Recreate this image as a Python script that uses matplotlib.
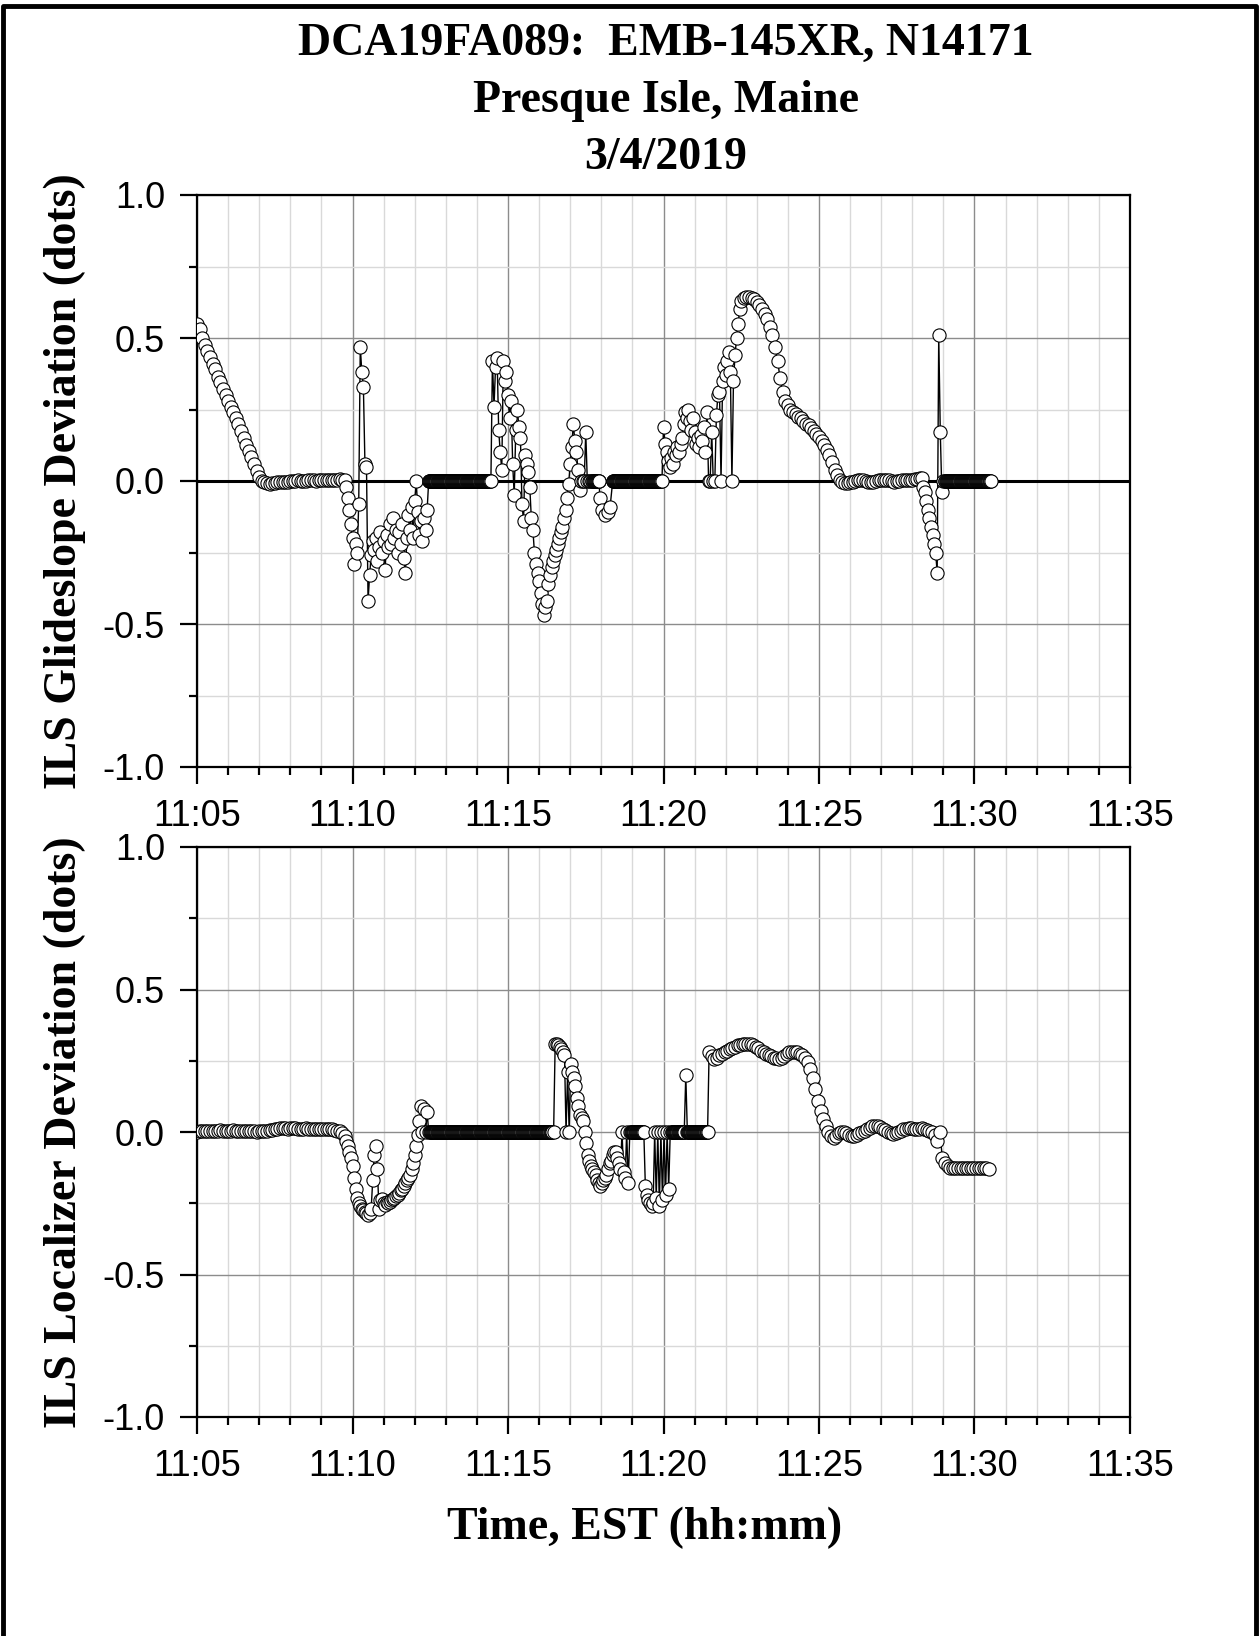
import numpy as np
import matplotlib
matplotlib.use('Agg')
import matplotlib.pyplot as plt
from matplotlib.ticker import MultipleLocator, FuncFormatter
from matplotlib.lines import Line2D

plt.rcParams['axes.unicode_minus'] = False

# ---- ILS glideslope deviation (dots); time in seconds after 11:05:00, in chunks
# (the recorder writes 0.0 while the signal is flagged invalid -> long zero runs at 1 s)
gs_starts = [0, 288, 447, 570, 762, 777, 802, 900, 1050, 1398, 1443]
gs_steps = [5, 3, 1, 3, 1, 5, 1, 3, 5, 3, 1]
gs_v1 = [0.55, 0.53, 0.50, 0.475, 0.455, 0.435, 0.41, 0.39, 0.365, 0.345,
         0.32, 0.30, 0.28, 0.26, 0.24, 0.22, 0.20, 0.175, 0.15, 0.125,
         0.105, 0.085, 0.06, 0.035, 0.015, 0.0,
         -0.005, -0.008, -0.009, -0.008, -0.006, -0.005, -0.004, -0.003, -0.002, -0.002,
         -0.001, 0.0, 0.001, 0.002, 0.001, 0.0, 0.001, 0.002, 0.003, 0.002,
         0.001, 0.002, 0.003, 0.004, 0.003, 0.002, 0.003, 0.004, 0.005, 0.006,
         0.005, 0.003]
gs_v2 = [-0.02, -0.06, -0.10, -0.15, -0.20, -0.29, -0.22, -0.25, -0.08, 0.47,
         0.38, 0.33, 0.06, 0.05, -0.42, -0.33, -0.26, -0.21, -0.24, -0.20,
         -0.28, -0.23, -0.18, -0.25, -0.21, -0.31, -0.19, -0.23, -0.15, -0.22,
         -0.13, -0.20, -0.17, -0.25, -0.18, -0.22, -0.15, -0.27, -0.32, -0.20,
         -0.12, -0.17, -0.09, -0.20, -0.07, 0.0, -0.11, -0.19, -0.14, -0.21,
         -0.13, -0.17, -0.10]
gs_v3 = [0.0] * 121
gs_v4 = [0.42, 0.26, 0.40, 0.43, 0.18, 0.10, 0.04, 0.42, 0.35, 0.38,
         0.30, 0.22, 0.28, 0.06, -0.05, 0.18, 0.25, 0.19, 0.15, -0.08,
         -0.14, 0.09, 0.06, 0.03, -0.02, -0.13, -0.17, -0.25, -0.29, -0.32,
         -0.35, -0.39, -0.43, -0.47, -0.44, -0.42, -0.36, -0.33, -0.30, -0.28,
         -0.26, -0.24, -0.22, -0.20, -0.18, -0.16, -0.13, -0.10, -0.06, -0.01,
         0.06, 0.12, 0.20, 0.14, 0.10, 0.04, -0.03, 0.0, 0.0, 0.0,
         0.17, 0.0, 0.0, 0.0]
gs_v5a = [0.0] * 15
gs_v5b = [-0.06, -0.10, -0.12, -0.11, -0.09]
gs_v5c = [0.0] * 96
gs_v6 = [0.19, 0.13, 0.10, 0.07, 0.05, 0.08, 0.06, 0.10, 0.09, 0.12,
         0.10, 0.13, 0.15, 0.20, 0.24, 0.22, 0.25, 0.21, 0.18, 0.22,
         0.17, 0.13, 0.15, 0.12, 0.16, 0.14, 0.19, 0.10, 0.24, 0.0,
         0.0, 0.17, 0.0, 0.0, 0.23, 0.30, 0.31, 0.0, 0.35, 0.40,
         0.37, 0.42, 0.45, 0.38, 0.0, 0.35, 0.44, 0.50, 0.55, 0.60]
gs_v7 = [0.63, 0.64, 0.645, 0.645, 0.64, 0.635, 0.625, 0.615, 0.60, 0.585,
         0.565, 0.54, 0.51, 0.47, 0.42, 0.36, 0.31, 0.28, 0.265, 0.25,
         0.24, 0.235, 0.225, 0.22, 0.21, 0.20, 0.195, 0.185, 0.175, 0.165,
         0.155, 0.14, 0.125, 0.11, 0.09, 0.065, 0.04, 0.02, 0.005, -0.005,
         -0.008,
         -0.006, -0.004, -0.002, 0.0, 0.002, 0.003, 0.002, 0.0, -0.002, -0.003,
         -0.002, 0.0, 0.002, 0.004, 0.005, 0.004, 0.002, 0.0, -0.002, -0.001,
         0.001, 0.003, 0.004, 0.003, 0.002, 0.004, 0.006, 0.008, 0.01]
gs_v8 = [0.01, -0.02, -0.04, -0.07, -0.10, -0.13, -0.16, -0.19, -0.22, -0.25,
         -0.32, 0.51, 0.17, -0.04, 0.0]
gs_v9 = [0.0] * 89

# ---- ILS localizer deviation (dots)
lc_starts = [0, 288, 450, 688, 838, 865, 916, 943, 946, 988]
lc_steps = [5, 3, 1, 3, 1, 3, 1, 1, 1, 5]
lc_v1 = [0.0, 0.002, 0.003, 0.002, 0.004, 0.005, 0.004, 0.003, 0.004, 0.006,
         0.005, 0.004, 0.003, 0.005, 0.006, 0.005, 0.004, 0.003, 0.002, 0.003,
         0.004, 0.003, 0.002, 0.001, 0.002, 0.003, 0.004, 0.005, 0.006, 0.008,
         0.010, 0.012, 0.013, 0.014, 0.013, 0.012, 0.013, 0.014, 0.013, 0.012,
         0.011, 0.012, 0.013, 0.012, 0.011, 0.010, 0.011, 0.012, 0.011, 0.010,
         0.009, 0.010, 0.009, 0.007, 0.005, 0.002, -0.005, -0.015]
lc_v2 = [-0.03, -0.05, -0.07, -0.09, -0.12, -0.16, -0.20, -0.23, -0.25, -0.26,
         -0.27, -0.275, -0.28, -0.285, -0.29, -0.285, -0.27, -0.17, -0.08, -0.05,
         -0.13, -0.27, -0.24, -0.235, -0.25, -0.255, -0.245, -0.25, -0.245, -0.24,
         -0.235, -0.23, -0.225, -0.22, -0.215, -0.205, -0.20, -0.19, -0.18, -0.17,
         -0.16, -0.15, -0.13, -0.11, -0.08, -0.05, -0.01, 0.04, 0.09, 0.0,
         0.08, 0.0, 0.07, 0.0]
lc_v3 = [0.0] * 236
lc_v4 = [0.0, 0.31, 0.31, 0.305, 0.30, 0.29, 0.28, 0.27, 0.0, 0.21,
         0.0, 0.24, 0.21, 0.19, 0.16, 0.12, 0.09, 0.06, 0.05, 0.04,
         0.0, -0.04, -0.08, -0.10, -0.12, -0.13, -0.14, -0.15, -0.17, -0.18,
         -0.19, -0.18, -0.17, -0.16, -0.15, -0.13, -0.11, -0.10, -0.08, -0.07,
         -0.07, -0.09, -0.11, -0.13, 0.0, -0.14, -0.16, 0.0, -0.18, 0.0]
lc_v5a = [0.0] * 25
lc_v5b = [-0.19, -0.22, -0.24, -0.25, -0.26, -0.25, 0.0, -0.23, 0.0, -0.26,
          0.0, -0.24, 0.0, -0.22, 0.0, -0.20, 0.0]
lc_v5c = [0.0] * 25
lc_v5d = [0.20]
lc_v5e = [0.0] * 40
lc_v6 = [0.28, 0.265, 0.255, 0.26, 0.27, 0.275, 0.28, 0.285, 0.29, 0.295,
         0.30, 0.305, 0.305, 0.31, 0.31, 0.31, 0.31, 0.305, 0.30, 0.295,
         0.285, 0.28, 0.275, 0.27, 0.265, 0.26, 0.26, 0.255, 0.26, 0.265,
         0.275, 0.28, 0.28, 0.28, 0.28, 0.275, 0.27, 0.26, 0.245, 0.22,
         0.19, 0.15, 0.11, 0.075, 0.045, 0.02, 0.0,
         -0.015, -0.02, -0.015, -0.005, 0.0, 0.0, -0.005, -0.01, -0.015, -0.015,
         -0.01, -0.005, 0.0, 0.005, 0.01, 0.015, 0.02, 0.02, 0.02, 0.018,
         0.012, 0.006, 0.0, -0.005, -0.008, -0.005, 0.0, 0.005, 0.01, 0.012,
         0.015, 0.015, 0.012, 0.01, 0.012, 0.015, 0.012, 0.008, 0.003, 0.0,
         -0.01, -0.03,
         0.0, -0.09, -0.11, -0.12] + [-0.125] * 15 + [-0.13]

ylabels = ['ILS Glideslope Deviation (dots)', 'ILS Localizer Deviation (dots)']
title_lines = ['DCA19FA089:  EMB-145XR, N14171', 'Presque Isle, Maine', '3/4/2019']


def series(starts, steps, chunks):
    t = np.concatenate([s + d * np.arange(len(c)) for s, d, c in zip(starts, steps, chunks)])
    v = np.concatenate([np.asarray(c, float) for c in chunks])
    return 5 + t / 60.0, v  # minutes after 11:00


gs_x, gs_y = series(gs_starts, gs_steps,
                    [gs_v1, gs_v2, gs_v3, gs_v4, gs_v5a, gs_v5b, gs_v5c, gs_v6, gs_v7, gs_v8, gs_v9])
lc_x, lc_y = series(lc_starts, lc_steps,
                    [lc_v1, lc_v2, lc_v3, lc_v4, lc_v5a, lc_v5b, lc_v5c, lc_v5d, lc_v5e, lc_v6])

W, H = 1259, 1636
fig = plt.figure(figsize=(W / 100, H / 100), dpi=100)
ax1 = fig.add_axes([197 / W, 1 - 767 / H, 933 / W, 572 / H])
ax2 = fig.add_axes([197 / W, 1 - 1417 / H, 933 / W, 570 / H])

serif = 'Liberation Serif'
sans = 'Liberation Sans'

for ax, x, y in [(ax1, gs_x, gs_y), (ax2, lc_x, lc_y)]:
    ax.set_xlim(5, 35)
    ax.set_ylim(-1, 1)
    ax.xaxis.set_major_locator(MultipleLocator(5))
    ax.xaxis.set_minor_locator(MultipleLocator(1))
    ax.yaxis.set_major_locator(MultipleLocator(0.5))
    ax.yaxis.set_minor_locator(MultipleLocator(0.25))
    ax.xaxis.set_major_formatter(FuncFormatter(lambda v, p: '11:%02d' % int(round(v))))
    ax.yaxis.set_major_formatter(FuncFormatter(lambda v, p: '%.1f' % v))
    ax.set_axisbelow(True)
    ax.grid(which='major', color='#8c8c8c', lw=1.0)
    ax.grid(which='minor', color='#d9d9d9', lw=1.0)
    ax.tick_params(which='major', direction='out', length=12, width=1.6, labelsize=26, pad=11)
    ax.tick_params(which='minor', direction='out', length=6, width=1.6)
    for lbl in ax.get_xticklabels() + ax.get_yticklabels():
        lbl.set_family(sans)
    for sp in ax.spines.values():
        sp.set_linewidth(1.6)
    ax.plot(x, y, '-', color='black', lw=1.0, marker='o', ms=9.5,
            mfc='white', mec='black', mew=0.8, zorder=3)

ax1.axhline(0, color='black', lw=2.2, zorder=2)

fig.text(65 / W, 1 - 481 / H, ylabels[0], rotation=90, ha='center', va='center',
         fontsize=33, fontweight='bold', family=serif)
fig.text(65 / W, 1 - 1132 / H, ylabels[1], rotation=90, ha='center', va='center',
         fontsize=33, fontweight='bold', family=serif)

for line, yy in zip(title_lines, [44, 101, 158]):
    fig.text(0.529, 1 - yy / H, line, ha='center', va='center',
             fontsize=33, fontweight='bold', family=serif)

fig.text(645 / W, 1 - 1528 / H, 'Time, EST (hh:mm)', ha='center', va='center',
         fontsize=33, fontweight='bold', family=serif)

# page frame
fig.add_artist(Line2D([3 / W, 3 / W, 1256 / W, 1256 / W], [-0.01, 1 - 6 / H, 1 - 6 / H, -0.01],
                      transform=fig.transFigure, color='black', lw=3.5))

fig.savefig('out.png', dpi=100)
